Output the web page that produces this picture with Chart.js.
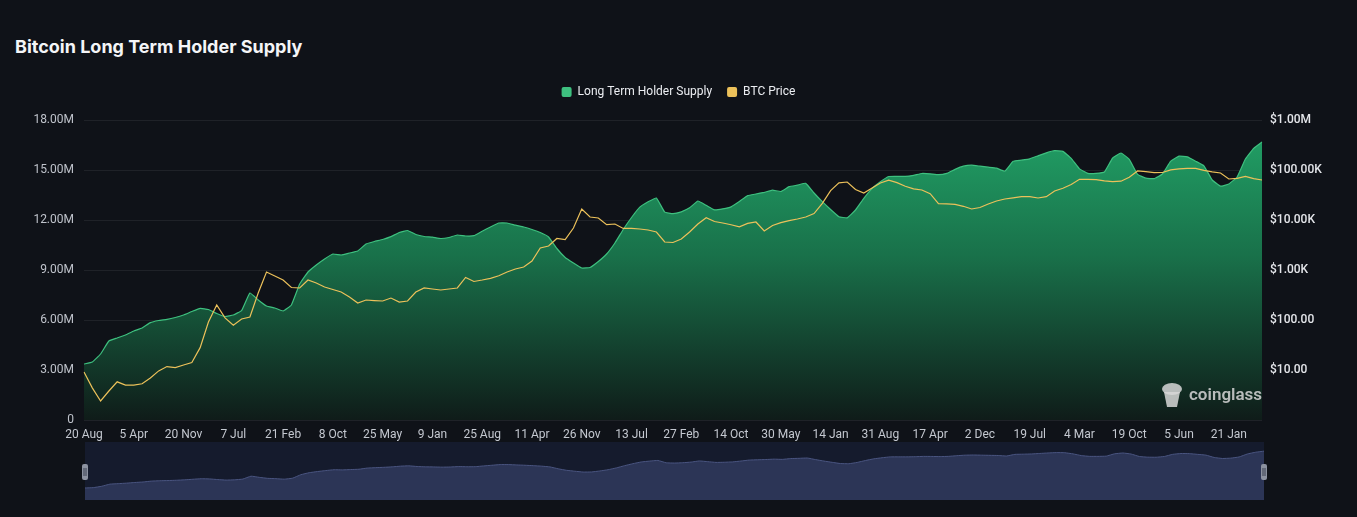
<!DOCTYPE html>
<html>
<head>
<meta charset="utf-8">
<title>Bitcoin Long Term Holder Supply</title>
<script src="https://cdn.jsdelivr.net/npm/chart.js@4.4.1/dist/chart.umd.min.js"></script>
<style>
  html, body {
    margin: 0;
    padding: 0;
    width: 1357px;
    height: 517px;
    background: #0f1218;
    overflow: hidden;
    font-family: Inter, Roboto, "Noto Sans", sans-serif;
  }
  #title {
    position: absolute;
    left: 15px;
    top: 36px;
    color: #f4f5f7;
    font-size: 18px;
    font-weight: 700;
    letter-spacing: 0;
  }
  #main-wrap {
    position: absolute;
    left: 0;
    top: 0;
    width: 1357px;
    height: 442px;
  }
  #nav-wrap {
    position: absolute;
    left: 0;
    top: 440px;
    width: 1357px;
    height: 77px;
  }
</style>
</head>
<body>
<div id="title">Bitcoin Long Term Holder Supply</div>
<div id="main-wrap"><canvas id="lthChart"></canvas></div>
<div id="nav-wrap"><canvas id="navChart"></canvas></div>

<script>
// x axis tick labels (one every 6 points)
const tickLabels = [
  "20 Aug", "5 Apr", "20 Nov", "7 Jul", "21 Feb", "8 Oct", "25 May", "9 Jan",
  "25 Aug", "11 Apr", "26 Nov", "13 Jul", "27 Feb", "14 Oct", "30 May", "14 Jan",
  "31 Aug", "17 Apr", "2 Dec", "19 Jul", "4 Mar", "19 Oct", "5 Jun", "21 Jan",
];
const pointsPerTick = 6;

// long term holder supply, millions of BTC
const lthSupply = [
  3.36, 3.48, 3.96, 4.74, 4.92, 5.10, 5.34, 5.52, 5.84, 5.97,
  6.04, 6.15, 6.30, 6.51, 6.70, 6.63, 6.39, 6.21, 6.30, 6.57,
  7.62, 7.20, 6.84, 6.72, 6.54, 6.90, 8.16, 8.88, 9.30, 9.66,
  9.96, 9.90, 10.02, 10.14, 10.56, 10.71, 10.83, 11.00, 11.25, 11.37,
  11.13, 11.01, 10.97, 10.89, 10.95, 11.10, 11.04, 11.06, 11.33, 11.58,
  11.82, 11.82, 11.69, 11.58, 11.43, 11.25, 10.98, 10.29, 9.75, 9.42,
  9.12, 9.15, 9.51, 9.96, 10.62, 11.43, 12.15, 12.77, 13.09, 13.32,
  12.47, 12.38, 12.49, 12.73, 13.14, 12.88, 12.61, 12.67, 12.79, 13.11,
  13.46, 13.56, 13.66, 13.79, 13.71, 14.00, 14.09, 14.20, 13.62, 13.10,
  12.63, 12.20, 12.13, 12.60, 13.30, 13.90, 14.30, 14.61, 14.62, 14.62,
  14.68, 14.79, 14.77, 14.72, 14.80, 15.04, 15.23, 15.29, 15.23, 15.17,
  15.11, 14.93, 15.52, 15.59, 15.67, 15.85, 16.03, 16.16, 16.12, 15.70,
  15.07, 14.80, 14.80, 14.88, 15.72, 16.02, 15.64, 14.74, 14.51, 14.48,
  14.76, 15.53, 15.83, 15.79, 15.53, 15.25, 14.40, 14.03, 14.16, 14.58,
  15.66, 16.30, 16.68,
];

// BTC price, USD
const btcPrice = [
  9.1, 4.4, 2.4, 3.8, 5.8, 5.0, 5.0, 5.3, 6.9, 9.6,
  11.7, 11.2, 12.6, 14.1, 28, 91, 200, 110, 79, 105,
  115, 347, 912, 759, 631, 447, 437, 631, 550, 457,
  407, 363, 288, 219, 251, 245, 240, 275, 229, 240,
  363, 437, 417, 398, 417, 437, 708, 589, 631, 682,
  766, 912, 1047, 1148, 1514, 2754, 3020, 4266, 4074, 6918,
  16600, 11480, 10970, 8050, 8320, 6790, 6790, 6610, 6310, 5750,
  3630, 3550, 4170, 5750, 8320, 11120, 9330, 8710, 8050, 7310,
  8550, 9120, 6030, 7760, 8870, 9680, 10470, 11480, 13430, 21480,
  38730, 55460, 57540, 40740, 34670, 43650, 54950, 62520, 55980, 47210,
  42070, 39810, 33570, 21180, 21090, 20610, 18790, 16600, 17780, 20890,
  23990, 26300, 27800, 29240, 29240, 27540, 29240, 38020, 43250, 51290,
  65160, 65160, 63970, 60810, 58350, 59700, 71450, 95940, 92900, 88720,
  89130, 100460, 105200, 108140, 108140, 98630, 91620, 87100, 66070, 68230,
  74820, 66990, 63100,
];

// right axis (log) ticks
const priceTicks = [1, 10, 100, 1000, 10000, 100000, 1000000];
const priceTickLabels = ["", "$10.00", "$100.00", "$1.00K", "$10.00K", "$100.00K", "$1.00M"];

const lthColor = "#3ec07f";
const priceColor = "#ecc15a";

// one category per point, tick text only on every 6th one
const categories = lthSupply.map((_, i) =>
  i % pointsPerTick === 0 ? tickLabels[i / pointsPerTick] || "" : ""
);

Chart.defaults.font.family = 'Roboto, "Noto Sans", sans-serif';
Chart.defaults.font.size = 12;

// pushes the chart area a bit below the legend
const legendMargin = {
  id: "legendMargin",
  beforeInit(chart) {
    const origFit = chart.legend.fit;
    chart.legend.fit = function fit() {
      origFit.bind(chart.legend)();
      this.height += 12;
    };
  },
};

// coinglass watermark, bottom right of the plot
const watermark = {
  id: "watermark",
  afterDatasetsDraw(chart) {
    const { ctx, chartArea } = chart;
    const x = chartArea.right - 101;
    const y = chartArea.bottom - 25;
    ctx.save();
    ctx.fillStyle = "rgba(215, 215, 215, 0.85)";
    // little head icon
    ctx.beginPath();
    ctx.ellipse(x + 11, y - 6, 10, 6, 0, 0, Math.PI * 2);
    ctx.fill();
    ctx.beginPath();
    ctx.moveTo(x + 3, y - 3);
    ctx.lineTo(x + 19, y - 3);
    ctx.lineTo(x + 16, y + 12);
    ctx.lineTo(x + 6, y + 12);
    ctx.closePath();
    ctx.fill();
    ctx.font = '600 17px Roboto, "Noto Sans", sans-serif';
    ctx.textBaseline = "middle";
    ctx.textAlign = "left";
    ctx.fillText("coinglass", x + 28, y + 1);
    ctx.restore();
  },
};

const ctx = document.getElementById("lthChart").getContext("2d");

new Chart(ctx, {
  type: "line",
  data: {
    labels: categories,
    datasets: [
      {
        label: "Long Term Holder Supply",
        data: lthSupply,
        yAxisID: "y",
        order: 1,
        borderColor: lthColor,
        borderWidth: 1.2,
        pointRadius: 0,
        tension: 0.1,
        fill: "origin",
        backgroundColor: (context) => {
          const { ctx: c, chartArea } = context.chart;
          if (!chartArea) return "rgba(31, 150, 95, 0.6)";
          const g = c.createLinearGradient(0, chartArea.top, 0, chartArea.bottom);
          g.addColorStop(0, "#22a468");
          g.addColorStop(0.45, "#19714a");
          g.addColorStop(1, "#0f1c19");
          return g;
        },
      },
      {
        label: "BTC Price",
        data: btcPrice,
        yAxisID: "y1",
        order: 0,
        borderColor: priceColor,
        borderWidth: 1.2,
        pointRadius: 0,
        tension: 0,
        fill: false,
      },
    ],
  },
  options: {
    responsive: true,
    maintainAspectRatio: false,
    animation: false,
    layout: {
      padding: { top: 71, left: 0, right: 0, bottom: 0 },
    },
    scales: {
      x: {
        grid: { display: false, drawTicks: false },
        border: { display: false },
        ticks: {
          color: "#c4c8d0",
          autoSkip: false,
          maxRotation: 0,
          minRotation: 0,
          padding: 8,
        },
        afterFit: (scale) => {
          scale.height = 22;
        },
      },
      y: {
        position: "left",
        min: 0,
        max: 18,
        border: { display: false },
        grid: {
          color: "rgba(255, 255, 255, 0.07)",
          drawTicks: false,
        },
        ticks: {
          stepSize: 3,
          color: "#bfc3cb",
          padding: 10,
          callback: (v) => (v === 0 ? "0" : v.toFixed(2) + "M"),
        },
        afterFit: (scale) => {
          scale.width = 84;
        },
      },
      y1: {
        type: "logarithmic",
        position: "right",
        min: 1,
        max: 1000000,
        border: { display: false },
        grid: { drawOnChartArea: false, drawTicks: false },
        afterBuildTicks: (scale) => {
          scale.ticks = priceTicks.map((v) => ({ value: v }));
        },
        ticks: {
          color: "#e4e6ea",
          padding: 8,
          font: { weight: "500" },
          callback: (v, i) => priceTickLabels[i],
        },
        afterFit: (scale) => {
          scale.width = 95;
        },
      },
    },
    plugins: {
      legend: {
        display: true,
        position: "top",
        labels: {
          color: "#eceef2",
          boxWidth: 10,
          boxHeight: 10,
          useBorderRadius: true,
          borderRadius: 2,
          padding: 15,
          sort: (a, b) => a.datasetIndex - b.datasetIndex,
          generateLabels: (chart) => {
            const items = Chart.defaults.plugins.legend.labels.generateLabels(chart);
            items.forEach((item) => {
              const c = item.datasetIndex === 0 ? lthColor : priceColor;
              item.fillStyle = c;
              item.strokeStyle = c;
              item.lineWidth = 0;
            });
            return items;
          },
        },
      },
      tooltip: { enabled: false },
    },
  },
  plugins: [legendMargin, watermark],
});

/* ---------------- navigator strip ---------------- */

const navBackground = {
  id: "navBackground",
  beforeDraw(chart) {
    const { ctx, chartArea } = chart;
    ctx.save();
    ctx.fillStyle = "#151b2d";
    ctx.fillRect(chartArea.left, chartArea.top, chartArea.right - chartArea.left, chartArea.bottom - chartArea.top);
    ctx.restore();
  },
  afterDraw(chart) {
    const { ctx, chartArea } = chart;
    const mid = (chartArea.top + chartArea.bottom) / 2 + 1;
    [chartArea.left, chartArea.right].forEach((hx) => {
      ctx.save();
      ctx.fillStyle = "#8c92a0";
      ctx.beginPath();
      ctx.roundRect(hx - 3, mid - 8, 6, 16, 2);
      ctx.fill();
      ctx.strokeStyle = "#3a4050";
      ctx.lineWidth = 1;
      ctx.beginPath();
      ctx.moveTo(hx - 1, mid - 4);
      ctx.lineTo(hx - 1, mid + 4);
      ctx.moveTo(hx + 1, mid - 4);
      ctx.lineTo(hx + 1, mid + 4);
      ctx.stroke();
      ctx.restore();
    });
  },
};

new Chart(document.getElementById("navChart").getContext("2d"), {
  type: "line",
  data: {
    labels: categories,
    datasets: [
      {
        data: lthSupply,
        borderColor: "#4a5580",
        borderWidth: 1,
        backgroundColor: "#2c3556",
        pointRadius: 0,
        tension: 0.1,
        fill: "start",
      },
    ],
  },
  options: {
    responsive: true,
    maintainAspectRatio: false,
    animation: false,
    layout: {
      padding: { top: 2, left: 85, right: 93, bottom: 17 },
    },
    scales: {
      x: { display: false },
      y: { display: false, min: -1, max: 20 },
    },
    plugins: {
      legend: { display: false },
      tooltip: { enabled: false },
    },
  },
  plugins: [navBackground],
});
</script>
</body>
</html>
